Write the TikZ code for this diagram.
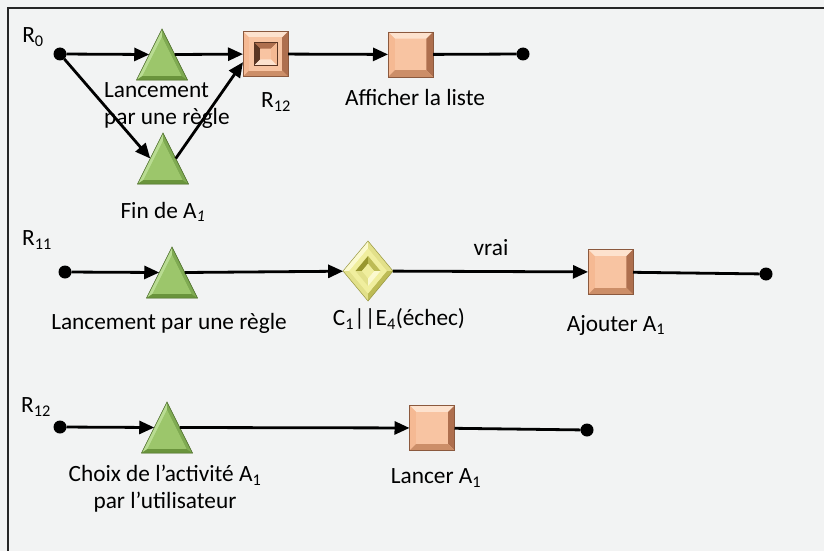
\documentclass[tikz,border=0pt]{standalone}
\usepackage{fontspec}
\setmainfont{Carlito}
\usetikzlibrary{shapes.geometric,arrows.meta,calc}
\definecolor{bg}{HTML}{F2F3F3}
\definecolor{gmid}{HTML}{9CC66B}
\definecolor{glt}{HTML}{B9DC92}
\definecolor{gmd}{HTML}{7FAA52}
\definecolor{gdk}{HTML}{6A943C}
\definecolor{pmid}{HTML}{F8C4A2}
\definecolor{plt}{HTML}{FDE2CE}
\definecolor{pl}{HTML}{F5B993}
\definecolor{pdk}{HTML}{AE6F4E}
\definecolor{pbt}{HTML}{CC8E68}
\definecolor{prd}{HTML}{5A3624}
\definecolor{ymid}{HTML}{F0EE9E}
\definecolor{ylt}{HTML}{FBF9CF}
\definecolor{ymd}{HTML}{E2E08A}
\definecolor{ydk}{HTML}{BDBB55}
\definecolor{yrd}{HTML}{98962F}
\newcommand\tribev[1]{%
  \coordinate (#1-g) at ($(#1.apex)!0.6667!(#1.lower side)$);
  \coordinate (#1-a) at ($(#1.apex)!0.24!(#1-g)$);
  \coordinate (#1-l) at ($(#1.left corner)!0.24!(#1-g)$);
  \coordinate (#1-r) at ($(#1.right corner)!0.24!(#1-g)$);
  \fill[glt] (#1.apex) -- (#1.left corner) -- (#1-l) -- (#1-a) -- cycle;
  \fill[gmd] (#1.apex) -- (#1.right corner) -- (#1-r) -- (#1-a) -- cycle;
  \fill[gdk] (#1.left corner) -- (#1.right corner) -- (#1-r) -- (#1-l) -- cycle;
  \fill[gmid] (#1-a) -- (#1-l) -- (#1-r) -- cycle;
  \draw[gdk!70!black,line width=0.5pt] (#1.apex) -- (#1.left corner) -- (#1.right corner) -- cycle;
}
\newcommand\boxbev[2]{%
  \coordinate (#1-nw) at ($(#1.north west)!#2!(#1.center)$);
  \coordinate (#1-ne) at ($(#1.north east)!#2!(#1.center)$);
  \coordinate (#1-sw) at ($(#1.south west)!#2!(#1.center)$);
  \coordinate (#1-se) at ($(#1.south east)!#2!(#1.center)$);
  \fill[plt] (#1.north west) -- (#1.north east) -- (#1-ne) -- (#1-nw) -- cycle;
  \fill[pl] (#1.north west) -- (#1.south west) -- (#1-sw) -- (#1-nw) -- cycle;
  \fill[pdk] (#1.north east) -- (#1.south east) -- (#1-se) -- (#1-ne) -- cycle;
  \fill[pbt] (#1.south west) -- (#1.south east) -- (#1-se) -- (#1-sw) -- cycle;
  \fill[pmid] (#1-nw) rectangle (#1-se);
  \draw[pdk!80!black,line width=0.5pt] (#1.north west) rectangle (#1.south east);
}
\newcommand\boxrec[1]{%
  \coordinate (#1-nw2) at ($(#1.north west)!0.5!(#1.center)$);
  \coordinate (#1-ne2) at ($(#1.north east)!0.5!(#1.center)$);
  \coordinate (#1-sw2) at ($(#1.south west)!0.5!(#1.center)$);
  \coordinate (#1-se2) at ($(#1.south east)!0.5!(#1.center)$);
  \coordinate (#1-nw3) at ($(#1.north west)!0.76!(#1.center)$);
  \coordinate (#1-ne3) at ($(#1.north east)!0.76!(#1.center)$);
  \coordinate (#1-sw3) at ($(#1.south west)!0.76!(#1.center)$);
  \coordinate (#1-se3) at ($(#1.south east)!0.76!(#1.center)$);
  \fill[pdk] (#1-nw2) -- (#1-ne2) -- (#1-ne3) -- (#1-nw3) -- cycle;
  \fill[prd] (#1-nw2) -- (#1-sw2) -- (#1-sw3) -- (#1-nw3) -- cycle;
  \fill[pl] (#1-ne2) -- (#1-se2) -- (#1-se3) -- (#1-ne3) -- cycle;
  \fill[plt] (#1-sw2) -- (#1-se2) -- (#1-se3) -- (#1-sw3) -- cycle;
  \fill[pmid] (#1-nw3) rectangle (#1-se3);
  \draw[prd,line width=0.5pt] (#1-nw2) rectangle (#1-se2);
}
\newcommand\diabev[1]{%
  \foreach \k/\f in {a/0.25,b/0.5,c/0.76}{
    \coordinate (#1-n\k) at ($(#1.north)!\f!(#1.center)$);
    \coordinate (#1-s\k) at ($(#1.south)!\f!(#1.center)$);
    \coordinate (#1-e\k) at ($(#1.east)!\f!(#1.center)$);
    \coordinate (#1-w\k) at ($(#1.west)!\f!(#1.center)$);
  }
  \fill[ylt] (#1.north) -- (#1.west) -- (#1-wa) -- (#1-na) -- cycle;
  \fill[ymd] (#1.north) -- (#1.east) -- (#1-ea) -- (#1-na) -- cycle;
  \fill[ymd] (#1.south) -- (#1.west) -- (#1-wa) -- (#1-sa) -- cycle;
  \fill[ydk] (#1.south) -- (#1.east) -- (#1-ea) -- (#1-sa) -- cycle;
  \fill[ymid] (#1-na) -- (#1-wa) -- (#1-sa) -- (#1-ea) -- cycle;
  \fill[yrd] (#1-nb) -- (#1-wb) -- (#1-wc) -- (#1-nc) -- cycle;
  \fill[ydk] (#1-nb) -- (#1-eb) -- (#1-ec) -- (#1-nc) -- cycle;
  \fill[ymd] (#1-sb) -- (#1-wb) -- (#1-wc) -- (#1-sc) -- cycle;
  \fill[ylt] (#1-sb) -- (#1-eb) -- (#1-ec) -- (#1-sc) -- cycle;
  \fill[ymid] (#1-nc) -- (#1-wc) -- (#1-sc) -- (#1-ec) -- cycle;
  \draw[ydk!80!black,line width=0.5pt] (#1.north) -- (#1.west) -- (#1.south) -- (#1.east) -- cycle;
}
\tikzset{
  txt/.style={inner sep=0pt, font=\fontsize{23.3}{27}\selectfont},
  tri/.style={isosceles triangle, isosceles triangle stretches, shape border rotate=90,
    minimum width=51pt, minimum height=51pt, inner sep=0pt, outer sep=0pt, fill=gmid},
  sqbox/.style={rectangle, minimum width=45pt, minimum height=45pt, inner sep=0pt, outer sep=0pt, fill=pmid},
  dia/.style={diamond, minimum width=50pt, minimum height=60pt, inner sep=0pt, outer sep=0pt, fill=ymid},
  dot/.style={circle, fill=black, minimum size=13pt, inner sep=0pt, outer sep=0pt},
  con/.style={line width=2.8pt, black},
  arr/.style={con, -{Triangle[length=15pt,width=13pt]}}
}
\begin{document}
\begin{tikzpicture}[x=1pt,y=-1pt]
\fill[bg] (0,0) rectangle (824,551);
\useasboundingbox (0,0) rectangle (824,551);
\draw[line width=1.8pt, black!85] (8,551) -- (8,8) -- (824,8);

% Row 1
\node[dot] (d0) at (60,54) {};
\node[tri, anchor=apex] (t1) at (162,29) {};
\node[tri, anchor=apex] (t2) at (163,133) {};
\node[sqbox] (b12) at (265.5,54) {};
\node[sqbox] (aff) at (410.5,54.5) {};
\node[dot] (e0) at (523,54) {};
\tribev{t1}\tribev{t2}
\boxbev{b12}{0.26}\boxrec{b12}
\boxbev{aff}{0.3}
\draw[arr] (d0) -- (t1.left side);
\draw[arr] (d0) -- (t2.left side);
\draw[arr] (t1.right side) -- (b12);
\draw[arr] (t2.right side) -- (b12.200);
\draw[arr] (b12) -- (aff);
\draw[con] (aff) -- (e0);
\node[txt] (lr0) at (33,37) {R\textsubscript{0}};
\node[txt, anchor=west, align=left] (ll1) at (104,106) {Lancement\\par une règle};
\node[txt] (lr12) at (276,102) {R\textsubscript{12}};
\node[txt] (laff) at (415,97) {Afficher la liste};
\node[txt] (lfin) at (163,212) {Fin de A\textsubscript{\textit{1}}};

% Row 2
\node[dot] (d1) at (65,272) {};
\node[tri, anchor=apex] (t3) at (172,247) {};
\node[dia] (c1) at (368,271) {};
\node[sqbox] (add) at (610.5,272) {};
\node[dot] (e1) at (766,274) {};
\tribev{t3}\diabev{c1}\boxbev{add}{0.3}
\draw[arr] (d1) -- (t3.left side);
\draw[arr] (t3.right side) -- (c1);
\draw[arr] (c1) -- (add);
\draw[con] (add) -- (e1);
\node[txt] (lr11) at (37,240) {R\textsubscript{11}};
\node[txt] (ll2) at (169,323) {Lancement par une règle};
\node[txt] (lc1) at (399,319) {C\textsubscript{1}\textbar\textbar E\textsubscript{4}(échec)};
\node[txt] (lvrai) at (491,248) {vrai};
\node[txt] (ladd) at (616,325) {Ajouter A\textsubscript{1}};

% Row 3
\node[dot] (d2) at (60,427) {};
\node[tri, anchor=apex] (t4) at (167,402) {};
\node[sqbox] (lan) at (432,428) {};
\node[dot] (e2) at (587,430) {};
\tribev{t4}\boxbev{lan}{0.3}
\draw[arr] (d2) -- (t4.left side);
\draw[arr] (t4.right side) -- (lan);
\draw[con] (lan) -- (e2);
\node[txt] (lr12b) at (36,407) {R\textsubscript{12}};
\node[txt, align=center] (lch) at (165,489) {Choix de l’activité A\textsubscript{1}\\par l’utilisateur};
\node[txt] (llan) at (436,478) {Lancer A\textsubscript{1}};
\end{tikzpicture}
\end{document}
